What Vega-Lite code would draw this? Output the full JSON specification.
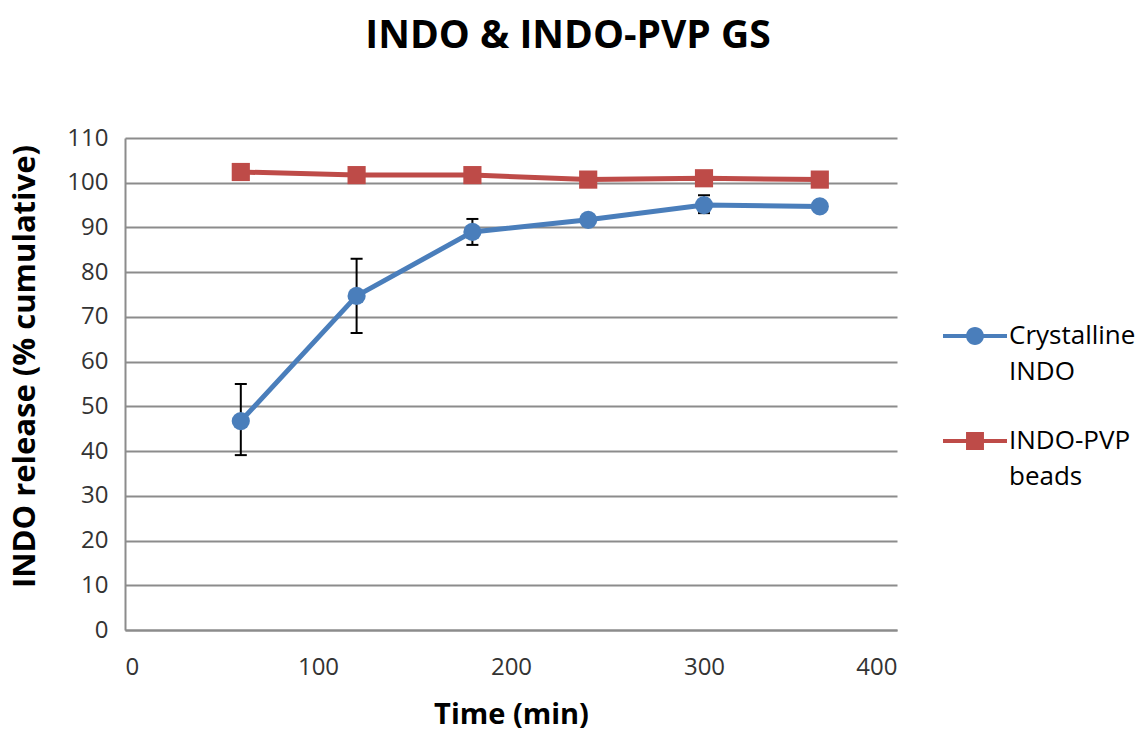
{
  "$schema": "https://vega.github.io/schema/vega-lite/v6.json",
  "width": 772,
  "height": 492,
  "autosize": {"type": "none"},
  "padding": {"left": 125, "top": 138, "right": 245, "bottom": 101},
  "background": "white",
  "title": {
    "text": "INDO & INDO-PVP GS",
    "font": "Open Sans",
    "fontSize": 39,
    "fontWeight": "bold",
    "color": "#000000",
    "anchor": "middle",
    "frame": "group",
    "dx": 57,
    "offset": 70
  },
  "config": {
    "view": {"stroke": null},
    "axis": {
      "labelFont": "Open Sans",
      "labelFontSize": 24,
      "labelColor": "#333333",
      "titleFont": "Open Sans",
      "titleFontSize": 29,
      "titleFontWeight": "bold",
      "titleColor": "#000000",
      "ticks": false,
      "domainColor": "#8c8c8c",
      "domainWidth": 2,
      "gridColor": "#8c8c8c",
      "gridWidth": 2,
      "gridOpacity": 1
    }
  },
  "data": {
    "values": [
      {"series": "Crystalline INDO", "time": 60, "value": 46.7, "lo": 39.1, "hi": 55.0},
      {"series": "Crystalline INDO", "time": 120, "value": 74.7, "lo": 66.4, "hi": 83.0},
      {"series": "Crystalline INDO", "time": 180, "value": 89.0, "lo": 86.1, "hi": 91.9},
      {"series": "Crystalline INDO", "time": 240, "value": 91.7, "lo": 91.2, "hi": 92.2},
      {"series": "Crystalline INDO", "time": 300, "value": 95.0, "lo": 93.2, "hi": 97.2},
      {"series": "Crystalline INDO", "time": 360, "value": 94.7, "lo": 94.4, "hi": 95.0},
      {"series": "INDO-PVP beads", "time": 60, "value": 102.4},
      {"series": "INDO-PVP beads", "time": 120, "value": 101.7},
      {"series": "INDO-PVP beads", "time": 180, "value": 101.7},
      {"series": "INDO-PVP beads", "time": 240, "value": 100.7},
      {"series": "INDO-PVP beads", "time": 300, "value": 101.0},
      {"series": "INDO-PVP beads", "time": 360, "value": 100.7}
    ]
  },
  "encoding": {
    "x": {
      "field": "time",
      "type": "quantitative",
      "scale": {"domain": [0, 400], "nice": false},
      "axis": {"values": [0, 100, 200, 300, 400], "grid": false, "title": "Time (min)", "labelPadding": 25, "titlePadding": 21}
    }
  },
  "layer": [
    {
      "transform": [{"filter": "isValid(datum.lo)"}],
      "mark": {"type": "rule", "color": "#000000", "strokeWidth": 2},
      "encoding": {
        "y": {"field": "lo", "type": "quantitative"},
        "y2": {"field": "hi"}
      }
    },
    {
      "transform": [{"filter": "isValid(datum.lo)"}],
      "mark": {"type": "tick", "orient": "horizontal", "color": "#000000", "thickness": 2, "size": 12, "opacity": 1},
      "encoding": {
        "y": {"field": "lo", "type": "quantitative"}
      }
    },
    {
      "transform": [{"filter": "isValid(datum.hi)"}],
      "mark": {"type": "tick", "orient": "horizontal", "color": "#000000", "thickness": 2, "size": 12, "opacity": 1},
      "encoding": {
        "y": {"field": "hi", "type": "quantitative"}
      }
    },
    {
      "mark": {"type": "line", "strokeWidth": 5},
      "encoding": {
        "y": {
          "field": "value",
          "type": "quantitative",
          "scale": {"domain": [0, 110], "nice": false},
          "axis": {"values": [0, 10, 20, 30, 40, 50, 60, 70, 80, 90, 100, 110], "title": "INDO release (% cumulative)", "titleFontSize": 31, "titleY": 228, "labelPadding": 17, "titlePadding": 25}
        },
        "color": {
          "field": "series",
          "type": "nominal",
          "scale": {"domain": ["Crystalline INDO", "INDO-PVP beads"], "range": ["#4a7ebb", "#be4b48"]},
          "legend": {
            "title": null,
            "orient": "none",
            "legendX": 818,
            "legendY": 166,
            "symbolSize": 4096,
            "labelFont": "Open Sans",
            "labelFontSize": 26,
            "labelColor": "#000000",
            "labelOffset": 2,
            "rowPadding": 24,
            "labelExpr": "datum.label == 'Crystalline INDO' ? ['Crystalline', 'INDO'] : ['INDO-PVP', 'beads']",
            "encode": {
              "symbols": {
                "update": {
                  "shape": {"signal": "datum.value == 'Crystalline INDO' ? 'M-1,-0.065H1V0.065H-1Z M-0.28,0A0.28,0.28 0 1,1 0.28,0A0.28,0.28 0 1,1 -0.28,0Z' : 'M-1,-0.065H1V0.065H-1Z M-0.28,-0.28H0.28V0.28H-0.28Z'"},
                  "fill": {"signal": "datum.value == 'Crystalline INDO' ? '#4a7ebb' : '#be4b48'"},
                  "fillOpacity": {"value": 1},
                  "strokeWidth": {"value": 0}
                }
              },
              "labels": {
                "update": {
                  "lineHeight": {"value": 36}
                }
              }
            }
          }
        }
      }
    },
    {
      "transform": [{"filter": "datum.series == 'Crystalline INDO'"}],
      "mark": {"type": "point", "shape": "circle", "filled": true, "opacity": 1, "size": 330},
      "encoding": {
        "y": {"field": "value", "type": "quantitative"},
        "color": {"field": "series", "type": "nominal"}
      }
    },
    {
      "transform": [{"filter": "datum.series == 'INDO-PVP beads'"}],
      "mark": {"type": "point", "shape": "square", "filled": true, "opacity": 1, "size": 330},
      "encoding": {
        "y": {"field": "value", "type": "quantitative"},
        "color": {"field": "series", "type": "nominal"}
      }
    }
  ]
}
